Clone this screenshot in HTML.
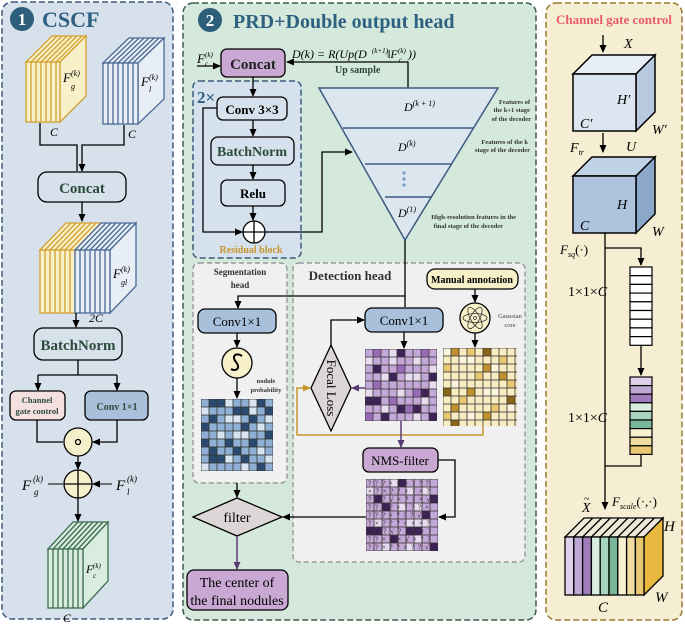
<!DOCTYPE html>
<html><head><meta charset="utf-8"><style>
html,body{margin:0;padding:0;background:#fff}
svg{display:block}
text{font-family:"Liberation Serif",serif}
.b{font-weight:bold}
</style></head><body>
<svg width="685" height="624" viewBox="0 0 685 624" xmlns="http://www.w3.org/2000/svg">
<defs>
<marker id="ar" markerWidth="8" markerHeight="8" refX="7" refY="4" orient="auto" markerUnits="userSpaceOnUse"><path d="M0,0.5 L8,4 L0,7.5 z" fill="#000"/></marker>
<marker id="arp" markerWidth="8" markerHeight="8" refX="7" refY="4" orient="auto" markerUnits="userSpaceOnUse"><path d="M0,0.5 L8,4 L0,7.5 z" fill="#5a3a72"/></marker>
<marker id="aro" markerWidth="8" markerHeight="8" refX="7" refY="4" orient="auto" markerUnits="userSpaceOnUse"><path d="M0,0.5 L8,4 L0,7.5 z" fill="#c8962e"/></marker>
<pattern id="g8" width="8" height="8" patternUnits="userSpaceOnUse"><rect width="8" height="8" fill="none" stroke="#333" stroke-width="0.8"/></pattern>
</defs>

<!-- Panel 1 -->
<rect x="2" y="2" width="171" height="617" rx="10" fill="#d6e1ec" stroke="#3d5a80" stroke-width="1.5" stroke-dasharray="6,3"/>
<circle cx="22" cy="19" r="12" fill="#2d5f7a"/>
<text x="22" y="25" font-size="17" fill="#fff" text-anchor="middle" class="b">1</text>
<text x="42" y="27" font-size="22" fill="#2e6080" class="b">CSCF</text>

<g stroke="#d4a030" stroke-width="1.3" fill="#f8f0c8">
<polygon points="26,62 60,62 86,36 52,36"/>
<polygon points="60,62 86,36 86,96 60,122"/>
<rect x="26" y="62" width="34" height="60"/>
<path d="M31,62V122M36,62V122M41,62V122M46,62V122M51,62V122M56,62V122M31,62L57,36M36,62L62,36M41,62L67,36M46,62L72,36M51,62L77,36M56,62L82,36" fill="none"/>
</g>
<text x="63" y="82" font-size="13" font-style="italic">F</text><text x="71" y="76" font-size="8" font-style="italic">(k)</text><text x="71" y="89" font-size="8" font-style="italic">g</text>
<g stroke="#4a6a95" stroke-width="1.3" fill="#e8eef5">
<polygon points="103,63 138,63 164,38 129,38"/>
<polygon points="138,63 164,38 164,99 138,124"/>
<rect x="103" y="63" width="35" height="61"/>
<path d="M108,63V124M113,63V124M118,63V124M123,63V124M128,63V124M133,63V124M108,63L134,38M113,63L139,38M118,63L144,38M123,63L149,38M128,63L154,38M133,63L159,38" fill="none"/>
</g>
<text x="141" y="86" font-size="13" font-style="italic">F</text><text x="149" y="80" font-size="8" font-style="italic">(k)</text><text x="149" y="92" font-size="8" font-style="italic">l</text>
<text x="50" y="136" font-size="12" font-style="italic">C</text>
<text x="128" y="138" font-size="12" font-style="italic">C</text>
<path d="M40,123V145H77V171M124,125V145H82V171" fill="none" stroke="#000" stroke-width="1.3" marker-end="url(#ar)"/>
<rect x="38" y="172" width="88" height="30" rx="9" fill="#d6e1ec" stroke="#000" stroke-width="1.3"/>
<text x="82" y="193" font-size="15" class="b" fill="#2b4a3a" text-anchor="middle">Concat</text>
<path d="M82,202V221" stroke="#000" stroke-width="1.3" marker-end="url(#ar)"/>
<g stroke-width="1.3">
<polygon points="40,250 75,250 101,223 66,223" fill="#f8f0c8" stroke="#d4a030"/>
<polygon points="75,250 110,250 136,223 101,223" fill="#e8eef5" stroke="#4a6a95"/>
<polygon points="110,250 136,223 136,286 110,313" fill="#e8eef5" stroke="#4a6a95"/>
<rect x="40" y="250" width="35" height="63" fill="#f8f0c8" stroke="#d4a030"/>
<rect x="75" y="250" width="35" height="63" fill="#e8eef5" stroke="#4a6a95"/>
<path d="M45,250V313M50,250V313M55,250V313M60,250V313M65,250V313M70,250V313M45,250L71,223M50,250L76,223M55,250L81,223M60,250L86,223M65,250L91,223M70,250L96,223" stroke="#d4a030" fill="none"/>
<path d="M80,250V313M85,250V313M90,250V313M95,250V313M100,250V313M105,250V313M80,250L106,223M85,250L111,223M90,250L116,223M95,250L121,223M100,250L126,223M105,250L131,223" stroke="#4a6a95" fill="none"/>
</g>
<text x="113" y="278" font-size="13" font-style="italic">F</text><text x="121" y="272" font-size="8" font-style="italic">(k)</text><text x="121" y="285" font-size="8" font-style="italic">gl</text>
<text x="89" y="322" font-size="12" font-style="italic">2C</text>
<path d="M76,313V327" stroke="#000" stroke-width="1.3" marker-end="url(#ar)"/>
<rect x="34" y="328" width="88" height="32" rx="9" fill="#d6e1ec" stroke="#000" stroke-width="1.3"/>
<text x="78" y="350" font-size="15" class="b" fill="#2b4a3a" text-anchor="middle">BatchNorm</text>
<path d="M78,360V375M38,375H117M38,375V390M117,375V390" fill="none" stroke="#000" stroke-width="1.3"/>
<path d="M38,382V390" stroke="#000" stroke-width="1.3" marker-end="url(#ar)"/>
<path d="M117,382V390" stroke="#000" stroke-width="1.3" marker-end="url(#ar)"/>
<rect x="10" y="391" width="55" height="29" rx="6" fill="#f5e0e0" stroke="#000" stroke-width="1.3"/>
<text x="37" y="403" font-size="8.5" class="b" fill="#2b4a3a" text-anchor="middle">Channel</text>
<text x="37" y="414" font-size="8.5" class="b" fill="#2b4a3a" text-anchor="middle">gate control</text>
<rect x="85" y="391" width="63" height="29" rx="6" fill="#a8c0da" stroke="#000" stroke-width="1.3"/>
<text x="117" y="410" font-size="10" class="b" fill="#2b4a3a" text-anchor="middle">Conv 1×1</text>
<path d="M37,420V442H63M117,420V442H93" fill="none" stroke="#000" stroke-width="1.3" marker-end="url(#ar)"/>
<circle cx="78" cy="442" r="14" fill="#f5efcc" stroke="#000" stroke-width="1.3"/>
<circle cx="78" cy="442" r="2.5" fill="none" stroke="#000" stroke-width="1.3"/>
<path d="M78,456V469" stroke="#000" stroke-width="1.3" marker-end="url(#ar)"/>
<circle cx="78" cy="484" r="14" fill="#f5efcc" stroke="#000" stroke-width="1.3"/>
<path d="M64,484H92M78,470V498" stroke="#000" stroke-width="1.3"/>
<path d="M48,484H63M112,484H93" stroke="#000" stroke-width="1" marker-end="url(#ar)"/>
<text x="22" y="490" font-size="15" font-style="italic">F</text><text x="33" y="482" font-size="9" font-style="italic">(k)</text><text x="34" y="495" font-size="9" font-style="italic">g</text>
<text x="116" y="490" font-size="15" font-style="italic">F</text><text x="127" y="482" font-size="9" font-style="italic">(k)</text><text x="127" y="495" font-size="9" font-style="italic">l</text>
<path d="M78,498V521" stroke="#000" stroke-width="1.3" marker-end="url(#ar)"/>
<g stroke="#3e6e50" stroke-width="1.3" fill="#d8ece0">
<polygon points="48,549 83,549 108,522 73,522"/>
<polygon points="83,549 108,522 108,581 83,608"/>
<rect x="48" y="549" width="35" height="59"/>
<path d="M53,549V608M58,549V608M63,549V608M68,549V608M73,549V608M78,549V608M53,549L78,522M58,549L83,522M63,549L88,522M68,549L93,522M73,549L98,522M78,549L103,522" fill="none"/>
</g>
<text x="86" y="573" font-size="12" font-style="italic">F</text><text x="93" y="568" font-size="7" font-style="italic">(k)</text><text x="93" y="578" font-size="7" font-style="italic">c</text>
<text x="63" y="622" font-size="12" font-style="italic">C</text>

<!-- Panel 2 -->
<rect x="183" y="3" width="353" height="617" rx="10" fill="#d4e9dc" stroke="#3f5a50" stroke-width="1.5" stroke-dasharray="6,3"/>
<circle cx="210" cy="20" r="12" fill="#2d5f7a"/>
<text x="210" y="26" font-size="17" fill="#fff" text-anchor="middle" class="b">2</text>
<text x="233" y="28" font-size="20" fill="#2e6080" class="b">PRD+Double output head</text>
<rect x="193" y="81" width="108" height="177" rx="6" fill="#d5e1ec" stroke="#3d5a80" stroke-width="1.5" stroke-dasharray="6,3"/>
<text x="197" y="103" font-size="17" fill="#2e6080" class="b">2×</text>
<text x="197" y="63" font-size="13" font-style="italic">F</text><text x="205" y="57" font-size="7" font-style="italic">(k)</text><text x="205" y="66" font-size="7" font-style="italic">c</text>
<path d="M197,66H220" stroke="#000" stroke-width="1.3" marker-end="url(#ar)"/>
<rect x="221" y="49" width="64" height="28" rx="6" fill="#c9a8d4" stroke="#000" stroke-width="1.3"/>
<text x="253" y="69" font-size="15" class="b" fill="#222" text-anchor="middle">Concat</text>
<text x="292" y="58" font-size="12" font-style="italic">D(k) = R(Up(D</text>
<text x="372" y="53" font-size="7" font-style="italic">(k+1)</text>
<text x="387" y="58" font-size="12" font-style="italic">‖F</text>
<text x="398" y="53" font-size="7" font-style="italic">(k)</text>
<text x="399" y="62" font-size="7" font-style="italic">c</text>
<text x="408" y="58" font-size="12" font-style="italic">))</text>
<text x="335" y="73" font-size="10" class="b" fill="#2b4a3a">Up sample</text>
<path d="M408,88V62H287" fill="none" stroke="#000" stroke-width="1.3" marker-end="url(#ar)"/>
<path d="M253,77V96" stroke="#000" stroke-width="1.3" marker-end="url(#ar)"/>
<rect x="217" y="97" width="70" height="23" rx="6" fill="#d5e1ec" stroke="#000" stroke-width="1.3"/>
<text x="252" y="114" font-size="13" class="b" text-anchor="middle">Conv 3×3</text>
<path d="M253,120V136" stroke="#000" stroke-width="1.3" marker-end="url(#ar)"/>
<rect x="211" y="137" width="83" height="28" rx="7" fill="#d5e1ec" stroke="#000" stroke-width="1.3"/>
<text x="252" y="156" font-size="14" class="b" fill="#2b4a3a" text-anchor="middle">BatchNorm</text>
<path d="M253,165V179" stroke="#000" stroke-width="1.3" marker-end="url(#ar)"/>
<rect x="221" y="180" width="64" height="26" rx="6" fill="#d5e1ec" stroke="#000" stroke-width="1.3"/>
<text x="253" y="198" font-size="13" class="b" text-anchor="middle">Relu</text>
<path d="M253,206V220" stroke="#000" stroke-width="1.3" marker-end="url(#ar)"/>
<path d="M217,108H203V232H242" fill="none" stroke="#000" stroke-width="1.3" marker-end="url(#ar)"/>
<circle cx="254" cy="232" r="11" fill="#fff" stroke="#000" stroke-width="1.3"/>
<path d="M243,232H265M254,221V243" stroke="#000" stroke-width="1.3"/>
<path d="M265,232H322V152H352" fill="none" stroke="#000" stroke-width="1.3" marker-end="url(#ar)"/>
<text x="251" y="253" font-size="10" class="b" fill="#c8962e" text-anchor="middle">Residual block</text>
<polygon points="319,88 498,88 405,240" fill="#dce6ef" stroke="#3d5a80" stroke-width="1.5"/>
<path d="M343,128H473M365,164H452M385,197H432" stroke="#3d5a80" stroke-width="1.5"/>
<text x="404" y="111" font-size="12" font-style="italic">D<tspan font-size="8" dy="-5">(k + 1)</tspan></text>
<text x="398" y="151" font-size="12" font-style="italic">D<tspan font-size="8" dy="-5">(k)</tspan></text>
<circle cx="404" cy="173" r="1.6" fill="#7a9cc8"/><circle cx="404" cy="179" r="1.6" fill="#7a9cc8"/><circle cx="404" cy="185" r="1.6" fill="#7a9cc8"/>
<text x="398" y="217" font-size="12" font-style="italic">D<tspan font-size="8" dy="-5">(1)</tspan></text>
<g font-size="6.5" class="b" fill="#333" text-anchor="end">
<text x="530" y="104">Features of</text><text x="530" y="112">the k+1 stage</text><text x="531" y="121">of the decoder</text>
<text x="528" y="144">Features of the k</text><text x="530" y="152">stage of the decoder</text>
<text x="516" y="219">High-resolution features in the</text><text x="503" y="228">final stage of the decoder</text>
</g>
<rect x="193" y="263" width="94" height="220" rx="6" fill="#f0f0f0" stroke="#888" stroke-width="1.2" stroke-dasharray="5,3"/>
<rect x="293" y="263" width="232" height="299" rx="6" fill="#f0f0f0" stroke="#888" stroke-width="1.2" stroke-dasharray="5,3"/>
<text x="240" y="275" font-size="9" class="b" fill="#333" text-anchor="middle">Segmentation</text>
<text x="240" y="288" font-size="9" class="b" fill="#333" text-anchor="middle">head</text>
<text x="350" y="280" font-size="13" class="b" fill="#333" text-anchor="middle">Detection head</text>
<rect x="427" y="269" width="91" height="20" rx="8" fill="#f8f0c8" stroke="#000" stroke-width="1.3"/>
<text x="472" y="283" font-size="10" class="b" text-anchor="middle">Manual annotation</text>
<path d="M405,240V307M405,296H238V308" fill="none" stroke="#000" stroke-width="1.3" marker-end="url(#ar)"/>
<rect x="198" y="309" width="78" height="24" rx="7" fill="#a8c0da" stroke="#000" stroke-width="1.3"/>
<text x="237" y="326" font-size="13" text-anchor="middle">Conv1×1</text>
<rect x="365" y="308" width="78" height="24" rx="7" fill="#a8c0da" stroke="#000" stroke-width="1.3"/>
<text x="404" y="325" font-size="13" text-anchor="middle">Conv1×1</text>
<path d="M237,333V347" stroke="#000" stroke-width="1.3" marker-end="url(#ar)"/>
<circle cx="237" cy="363" r="15" fill="#f8f0c8" stroke="#000" stroke-width="1.3"/>
<path d="M242,356 C236,352 231,356 236,362 C241,368 236,372 231,369" fill="none" stroke="#000" stroke-width="2"/>
<path d="M237,378V398" stroke="#000" stroke-width="1.3" marker-end="url(#ar)"/>
<text x="266" y="383" font-size="6.5" class="b" fill="#333" text-anchor="middle">nodule</text>
<text x="266" y="392" font-size="6.5" class="b" fill="#333" text-anchor="middle">probability</text>
<g transform="translate(201,399)">
<rect width="72" height="72" fill="#8fb0d4"/>
<g fill="#2c4a6e"><rect x="8" y="0" width="16" height="8"/><rect x="32" y="8" width="16" height="8"/><rect x="56" y="0" width="8" height="8"/><rect x="64" y="8" width="8" height="8"/><rect x="8" y="16" width="8" height="8"/><rect x="48" y="16" width="8" height="8"/><rect x="40" y="24" width="8" height="8"/><rect x="0" y="40" width="8" height="8"/><rect x="8" y="48" width="8" height="16"/><rect x="24" y="40" width="8" height="8"/><rect x="32" y="48" width="8" height="8"/><rect x="48" y="40" width="8" height="8"/><rect x="16" y="56" width="8" height="8"/><rect x="56" y="64" width="8" height="8"/><rect x="40" y="56" width="8" height="8"/><rect x="0" y="24" width="8" height="8"/><rect x="64" y="32" width="8" height="8"/></g>
<g fill="#d8e4f0"><rect x="24" y="0" width="8" height="8"/><rect x="48" y="0" width="8" height="8"/><rect x="0" y="8" width="8" height="8"/><rect x="48" y="8" width="8" height="8"/><rect x="24" y="16" width="16" height="8"/><rect x="64" y="16" width="8" height="8"/><rect x="16" y="32" width="8" height="8"/><rect x="56" y="24" width="8" height="8"/><rect x="32" y="32" width="16" height="8"/><rect x="56" y="48" width="8" height="8"/><rect x="24" y="56" width="8" height="8"/><rect x="0" y="64" width="8" height="8"/><rect x="40" y="64" width="8" height="8"/><rect x="64" y="56" width="8" height="8"/></g>
<rect width="72" height="72" fill="url(#g8)"/>
</g>
<path d="M475,289V302" stroke="#000" stroke-width="1.3" marker-end="url(#ar)"/>
<circle cx="475" cy="318" r="15" fill="#f8f0c8" stroke="#000" stroke-width="1.3"/>
<g fill="none" stroke="#333" stroke-width="0.8"><ellipse cx="475" cy="318" rx="12" ry="4.5"/><ellipse cx="475" cy="318" rx="12" ry="4.5" transform="rotate(60 475 318)"/><ellipse cx="475" cy="318" rx="12" ry="4.5" transform="rotate(-60 475 318)"/><circle cx="475" cy="318" r="1.5"/></g>
<text x="510" y="318" font-size="6.5" fill="#444" text-anchor="middle">Gaussian</text>
<text x="510" y="327" font-size="6.5" fill="#444" text-anchor="middle">core</text>
<path d="M475,333V347" stroke="#000" stroke-width="1.3" marker-end="url(#ar)"/>
<path d="M404,332V348" stroke="#000" stroke-width="1.3" marker-end="url(#ar)"/>
<g transform="translate(365,349)">
<rect width="72" height="72" fill="#c4a8d8"/>
<g fill="#e8dcf0"><rect x="0" y="8" width="8" height="8"/><rect x="24" y="0" width="8" height="16"/><rect x="48" y="8" width="8" height="8"/><rect x="16" y="24" width="8" height="8"/><rect x="40" y="24" width="16" height="8"/><rect x="64" y="16" width="8" height="8"/><rect x="0" y="40" width="8" height="8"/><rect x="32" y="40" width="8" height="8"/><rect x="56" y="48" width="8" height="8"/><rect x="16" y="56" width="8" height="8"/><rect x="48" y="64" width="8" height="8"/><rect x="64" y="32" width="8" height="8"/></g>
<g fill="#9a6cb8"><rect x="8" y="0" width="8" height="8"/><rect x="56" y="0" width="8" height="8"/><rect x="32" y="16" width="8" height="8"/><rect x="8" y="32" width="8" height="8"/><rect x="48" y="40" width="8" height="8"/><rect x="24" y="48" width="8" height="8"/><rect x="0" y="64" width="8" height="8"/><rect x="40" y="56" width="8" height="8"/></g>
<g fill="#3e2456"><rect x="32" y="0" width="8" height="8"/><rect x="8" y="16" width="8" height="8"/><rect x="64" y="24" width="8" height="8"/><rect x="24" y="24" width="8" height="8"/><rect x="56" y="40" width="8" height="8"/><rect x="0" y="48" width="16" height="8"/><rect x="32" y="56" width="8" height="8"/><rect x="16" y="64" width="8" height="8"/><rect x="64" y="64" width="8" height="8"/><rect x="48" y="56" width="8" height="8"/></g>
<rect width="72" height="72" fill="url(#g8)"/>
</g>
<g transform="translate(443,348)">
<rect width="74" height="78" fill="#f8ecc0"/>
<g fill="#fbf5dc"><rect x="0" y="0" width="8" height="8"/><rect x="16" y="8" width="16" height="8"/><rect x="48" y="16" width="8" height="8"/><rect x="8" y="32" width="8" height="8"/><rect x="40" y="40" width="16" height="8"/><rect x="64" y="56" width="8" height="8"/><rect x="24" y="64" width="8" height="8"/></g>
<g fill="#e8c870"><rect x="24" y="0" width="8" height="8"/><rect x="56" y="8" width="8" height="8"/><rect x="0" y="16" width="8" height="8"/><rect x="32" y="24" width="8" height="8"/><rect x="64" y="32" width="8" height="8"/><rect x="16" y="48" width="8" height="8"/><rect x="48" y="56" width="8" height="8"/><rect x="0" y="64" width="8" height="8"/></g>
<g fill="#c09030"><rect x="8" y="0" width="8" height="8"/><rect x="40" y="16" width="8" height="8"/><rect x="56" y="24" width="8" height="8"/><rect x="24" y="40" width="8" height="8"/><rect x="40" y="64" width="8" height="8"/><rect x="8" y="56" width="8" height="8"/></g>
<g fill="#8a6418"><rect x="40" y="0" width="8" height="8"/><rect x="0" y="40" width="8" height="8"/><rect x="64" y="48" width="8" height="8"/><rect x="8" y="72" width="8" height="6"/></g>
<rect width="74" height="78" fill="url(#g8)"/>
</g>
<polygon points="331,345 351,388 331,431 311,388" fill="#dcd6d6" stroke="#000" stroke-width="1.3"/>
<text x="331" y="388" font-size="13" text-anchor="middle" transform="rotate(90 331 388)" dy="4">Focal Loss</text>
<path d="M331,345V320H364" fill="none" stroke="#000" stroke-width="1.3" marker-end="url(#ar)"/>
<path d="M365,388H352" stroke="#5a3a72" stroke-width="1.5" marker-end="url(#arp)"/>
<path d="M483,426V435H297V388H310" fill="none" stroke="#c8962e" stroke-width="1.5" marker-end="url(#aro)"/>
<path d="M401,421V447" stroke="#5a3a72" stroke-width="1.5" marker-end="url(#arp)"/>
<rect x="363" y="448" width="75" height="24" rx="6" fill="#c9a8d4" stroke="#000" stroke-width="1.3"/>
<text x="400" y="465" font-size="13" text-anchor="middle">NMS-filter</text>
<path d="M438,460H455V517H439" fill="none" stroke="#000" stroke-width="1.3" marker-end="url(#ar)"/>
<g transform="translate(366,479)">
<rect width="72" height="72" fill="#c4a8d8"/>
<g fill="#e8dcf0"><rect x="24" y="0" width="8" height="8"/><rect x="0" y="8" width="8" height="8"/><rect x="40" y="8" width="8" height="8"/><rect x="56" y="8" width="8" height="8"/><rect x="32" y="24" width="8" height="8"/><rect x="40" y="40" width="24" height="8"/><rect x="8" y="40" width="8" height="8"/><rect x="48" y="56" width="8" height="8"/><rect x="16" y="64" width="8" height="8"/><rect x="40" y="64" width="8" height="8"/><rect x="48" y="24" width="8" height="8"/></g>
<g fill="#3e2456"><rect x="32" y="0" width="8" height="8"/><rect x="64" y="16" width="8" height="8"/><rect x="8" y="16" width="8" height="8"/><rect x="16" y="24" width="8" height="8"/><rect x="56" y="32" width="8" height="8"/><rect x="0" y="48" width="16" height="8"/><rect x="40" y="48" width="8" height="8"/><rect x="24" y="56" width="8" height="8"/><rect x="64" y="64" width="8" height="8"/><rect x="48" y="48" width="8" height="8"/></g>
<rect width="72" height="72" fill="url(#g8)"/>
<g font-family="Liberation Mono,monospace" font-size="7" fill="#222" letter-spacing="3.8">
<text x="2" y="6.5">???×√×???</text><text x="2" y="14.5">×?×??×?×?</text><text x="2" y="22.5">?√?√×??×√</text><text x="2" y="30.5">??√?×???×</text><text x="2" y="38.5">???×???√?</text><text x="2" y="46.5">?×???×××?</text><text x="2" y="54.5">√√?√?×√×?</text><text x="2" y="62.5">??×√×√×??</text><text x="2" y="70.5">??×??×??√</text>
</g>
</g>
<path d="M366,517H283" stroke="#000" stroke-width="1.3" marker-end="url(#ar)"/>
<path d="M237,483V497" stroke="#000" stroke-width="1.3" marker-end="url(#ar)"/>
<polygon points="193,517 237,498 282,517 237,536" fill="#dcd6d6" stroke="#000" stroke-width="1.3"/>
<text x="237" y="522" font-size="14" text-anchor="middle">filter</text>
<path d="M237,536V569" stroke="#5a3a72" stroke-width="1.5" marker-end="url(#arp)"/>
<rect x="187" y="570" width="101" height="40" rx="7" fill="#c9a8d4" stroke="#000" stroke-width="1.3"/>
<text x="237" y="587" font-size="14" text-anchor="middle">The center of</text>
<text x="237" y="605" font-size="14" text-anchor="middle">the final nodules</text>

<!-- Panel 3 -->
<rect x="546" y="3" width="136" height="617" rx="10" fill="#f5eed2" stroke="#9a7a30" stroke-width="1.5" stroke-dasharray="6,3"/>
<text x="614" y="24" font-size="13" class="b" fill="#e85a6a" text-anchor="middle">Channel gate control</text>
<path d="M603,35V52" stroke="#000" stroke-width="1.3" marker-end="url(#ar)"/>
<text x="624" y="48" font-size="14" font-style="italic">X</text>
<g stroke="#000" stroke-width="1.5">
<polygon points="573,74 636,74 655,55 592,55" fill="#e8eef5"/>
<polygon points="636,74 655,55 655,112 636,131" fill="#b8c8de"/>
<rect x="573" y="74" width="63" height="57" fill="#dce6f0"/>
</g>
<text x="617" y="104" font-size="14" font-style="italic">H′</text>
<text x="580" y="128" font-size="14" font-style="italic">C′</text>
<text x="652" y="134" font-size="14" font-style="italic">W′</text>
<path d="M603,133V152" stroke="#000" stroke-width="1.3" marker-end="url(#ar)"/>
<text x="570" y="152" font-size="14" font-style="italic">F<tspan font-size="8" dy="3">tr</tspan></text>
<text x="626" y="151" font-size="14" font-style="italic">U</text>
<g stroke="#000" stroke-width="1.5">
<polygon points="573,176 636,176 655,157 592,157" fill="#c0d2e6"/>
<polygon points="636,176 655,157 655,214 636,233" fill="#8ba7c9"/>
<rect x="573" y="176" width="63" height="57" fill="#aec4de"/>
</g>
<text x="617" y="209" font-size="14" font-style="italic">H</text>
<text x="580" y="230" font-size="14" font-style="italic">C</text>
<text x="652" y="236" font-size="14" font-style="italic">W</text>
<path d="M605,233V509" stroke="#000" stroke-width="1.3" marker-end="url(#ar)"/>
<path d="M605,248H641V265" fill="none" stroke="#000" stroke-width="1.3" marker-end="url(#ar)"/>
<text x="560" y="254" font-size="13" font-style="italic">F<tspan font-size="8" dy="3">sq</tspan><tspan dy="-3" font-style="normal">(·)</tspan></text>
<g stroke="#000" stroke-width="1.2" fill="#fff">
<rect x="630" y="267" width="22" height="8.7"/><rect x="630" y="275.7" width="22" height="8.7"/><rect x="630" y="284.4" width="22" height="8.7"/><rect x="630" y="293.1" width="22" height="8.7"/><rect x="630" y="301.8" width="22" height="8.7"/><rect x="630" y="310.5" width="22" height="8.7"/><rect x="630" y="319.2" width="22" height="8.7"/><rect x="630" y="327.9" width="22" height="8.7"/><rect x="630" y="336.6" width="22" height="8.7"/>
</g>
<text x="568" y="296" font-size="14">1×1×<tspan font-style="italic">C</tspan></text>
<path d="M641,346V375" stroke="#000" stroke-width="1.3" marker-end="url(#ar)"/>
<g stroke="#000" stroke-width="1.2">
<rect x="630" y="377" width="22" height="8.6" fill="#ddd0e8"/><rect x="630" y="385.6" width="22" height="8.6" fill="#c0a8d4"/><rect x="630" y="394.2" width="22" height="8.6" fill="#a07cbc"/><rect x="630" y="402.8" width="22" height="8.6" fill="#d8ece0"/><rect x="630" y="411.4" width="22" height="8.6" fill="#a6d4bc"/><rect x="630" y="420" width="22" height="8.6" fill="#78b898"/><rect x="630" y="428.6" width="22" height="8.6" fill="#f8f0d0"/><rect x="630" y="437.2" width="22" height="8.6" fill="#f0dca0"/><rect x="630" y="445.8" width="22" height="8.6" fill="#e8c870"/>
</g>
<text x="568" y="422" font-size="14">1×1×<tspan font-style="italic">C</tspan></text>
<path d="M641,454V466H605" fill="none" stroke="#000" stroke-width="1.3"/>
<text x="582" y="512" font-size="14" font-style="italic">X</text><text x="584" y="502" font-size="10">~</text>
<text x="612" y="506" font-size="13" font-style="italic">F<tspan font-size="8" dy="3">scale</tspan><tspan dy="-3" font-style="normal">(·,·)</tspan></text>
<g stroke="#000" stroke-width="1.3">
<polygon points="565,537 644,537 663,518 584,518" fill="#eee8d8"/>
<polygon points="644,537 663,518 663,576 644,595" fill="#e8b840"/>
<rect x="565" y="537" width="8.8" height="58" fill="#ddd0e8"/><rect x="573.8" y="537" width="8.8" height="58" fill="#c0a8d4"/><rect x="582.6" y="537" width="8.8" height="58" fill="#a07cbc"/><rect x="591.4" y="537" width="8.8" height="58" fill="#d8ece0"/><rect x="600.2" y="537" width="8.8" height="58" fill="#a6d4bc"/><rect x="609" y="537" width="8.8" height="58" fill="#78b898"/><rect x="617.8" y="537" width="8.8" height="58" fill="#f8f0d0"/><rect x="626.6" y="537" width="8.8" height="58" fill="#f0dca0"/><rect x="635.4" y="537" width="8.6" height="58" fill="#e8c870"/>
<path d="M573.8,537L592.8,518M582.6,537L601.6,518M591.4,537L610.4,518M600.2,537L619.2,518M609,537L628,518M617.8,537L636.8,518M626.6,537L645.6,518M635.4,537L654.4,518" fill="none"/>
</g>
<text x="664" y="531" font-size="15" font-style="italic">H</text>
<text x="655" y="602" font-size="15" font-style="italic">W</text>
<text x="598" y="612" font-size="15" font-style="italic">C</text>
</svg>
</body></html>
